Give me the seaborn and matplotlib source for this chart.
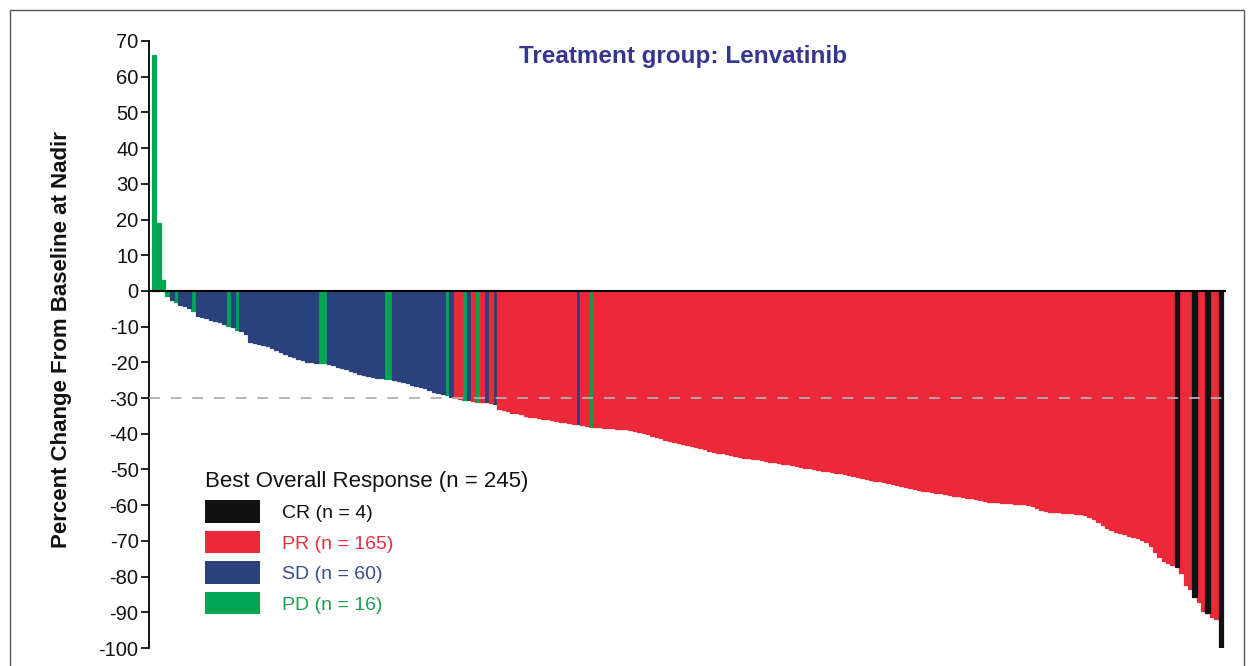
import matplotlib
matplotlib.use("Agg")
import matplotlib.pyplot as plt
from matplotlib.patches import Patch, Rectangle
import pandas as pd
import seaborn as sns

# Best percent change in target lesions, one value per patient (sorted waterfall)
change = [
    66, 19, 3, -1.5, -2.5, -3, -3.8, -4.2, -4.8, -5.5,
    -7, -7.3, -7.6, -8, -8.5, -8.8, -9.2, -9.7, -10.2, -10.8,
    -11.3, -12, -14.3, -14.5, -14.8, -15.1, -15.5, -16, -16.5, -17,
    -17.6, -18.1, -18.6, -19, -19.4, -19.8, -20, -20.1, -20.2, -20.3,
    -20.5, -20.8, -21.2, -21.6, -22, -22.4, -22.8, -23.3, -23.6, -23.9,
    -24.1, -24.3, -24.5, -24.6, -24.7, -25, -25.3, -25.6, -25.9, -26.3,
    -26.6, -26.9, -27.3, -27.8, -28.2, -28.5, -28.8, -29.1, -29.8, -30.1,
    -30.3, -30.5, -30.6, -30.8, -31, -31.1, -31.2, -31.4, -31.8, -33,
    -33.3, -33.7, -34.1, -34.3, -34.6, -34.9, -35.2, -35.4, -35.6, -35.8,
    -36, -36.2, -36.4, -36.6, -36.8, -37, -37.2, -37.4, -37.6, -37.8,
    -38, -38.1, -38.2, -38.3, -38.4, -38.5, -38.6, -38.7, -38.8, -38.9,
    -39.1, -39.4, -39.7, -40.1, -40.5, -40.9, -41.3, -41.7, -42.1, -42.4,
    -42.6, -42.8, -43.1, -43.4, -43.7, -44, -44.3, -44.7, -45, -45.3,
    -45.5, -45.8, -46, -46.3, -46.5, -46.7, -46.9, -47.1, -47.2, -47.4,
    -47.6, -47.8, -48, -48.2, -48.4, -48.6, -48.8, -49.1, -49.3, -49.5,
    -49.7, -49.9, -50.1, -50.3, -50.5, -50.7, -50.9, -51, -51.3, -51.6,
    -51.9, -52.1, -52.3, -52.6, -52.9, -53.1, -53.3, -53.5, -53.7, -54,
    -54.3, -54.6, -54.9, -55.2, -55.4, -55.7, -55.9, -56.1, -56.3, -56.5,
    -56.7, -56.9, -57.1, -57.3, -57.5, -57.7, -57.9, -58.1, -58.3, -58.5,
    -58.8, -59, -59.1, -59.2, -59.3, -59.4, -59.5, -59.6, -59.7, -59.8,
    -60, -60.3, -60.8, -61.3, -61.6, -61.8, -61.9, -62, -62.1, -62.2,
    -62.3, -62.4, -62.5, -62.8, -63.2, -63.8, -64.6, -65.5, -66.3, -66.9,
    -67.4, -67.8, -68.2, -68.6, -69, -69.3, -69.7, -70.3, -71.5, -73,
    -74.5, -75.5, -76.2, -76.8, -77.3, -79, -82.3, -83.5, -85.7, -87,
    -89.5, -90.2, -91.3, -92, -100,
]

# Best overall response per patient: C = CR, R = PR, S = SD, P = PD
response_codes = (
    "PPPPSPSSSP" "SSSSSSSPSP" "SSSSSSSSSS" "SSSSSSSSPP" "SSSSSSSSSS"
    "SSSPPSSSSS" "SSSSSSSPSR" "RPSRPRSRSR" "RRRRRRRRRR" "RRRRRRRSRR"
    "PRRRRRRRRR" "RRRRRRRRRR" "RRRRRRRRRR" "RRRRRRRRRR" "RRRRRRRRRR"
    "RRRRRRRRRR" "RRRRRRRRRR" "RRRRRRRRRR" "RRRRRRRRRR" "RRRRRRRRRR"
    "RRRRRRRRRR" "RRRRRRRRRR" "RRRRRRRRRR" "RRRRCRRRCR" "RCRRC"
)
code_names = {"C": "CR", "R": "PR", "S": "SD", "P": "PD"}
legend_order = ["CR", "PR", "SD", "PD"]

bar_colors = {"CR": "#111111", "PR": "#EC2939", "SD": "#2A417C", "PD": "#00A651"}
text_colors = {"CR": "#111111", "PR": "#E8303E", "SD": "#3A4C8A", "PD": "#1F9E55"}

df = pd.DataFrame({
    "patient": range(len(change)),
    "change": change,
    "response": [code_names[c] for c in response_codes],
})
counts = df["response"].value_counts()

sns.set_theme(style="white")
plt.rcParams["font.family"] = ["Liberation Sans", "DejaVu Sans"]
plt.rcParams["axes.unicode_minus"] = False

W, H = 1253, 666
fig = plt.figure(figsize=(W / 100, H / 100), dpi=100)
ax = fig.add_axes([149 / W, 18 / H, (1226 - 149) / W, 607 / H])

sns.barplot(
    data=df, x="patient", y="change", hue="response", palette=bar_colors,
    dodge=False, width=1.0, saturation=1, legend=False, errorbar=None,
    native_scale=True, linewidth=0, ax=ax,
)
# close the hairline seams between neighbouring bars
for p in ax.patches:
    p.set_edgecolor(p.get_facecolor())
    p.set_linewidth(0.9)

ax.set_xlim(-1.19, 245.2)
ax.set_ylim(-100, 70)
ax.set_yticks(range(-100, 71, 10))
ax.set_xticks([])
ax.set_xlabel("")
for side in ("top", "right", "bottom"):
    ax.spines[side].set_visible(False)
ax.spines["left"].set_color("black")
ax.spines["left"].set_linewidth(1.3)
ax.tick_params(axis="y", direction="out", length=6, width=1.2, color="black",
               labelsize=14.5, labelcolor="#111111", pad=1.5, left=True)

ax.axhline(0, color="black", lw=1.5, zorder=4)
ax.axhline(-30, color="#b0b0b0", lw=1.3, ls=(0, (6, 6)), zorder=4)

ax.set_ylabel("Percent Change From Baseline at Nadir", fontsize=16, fontweight="bold",
              color="#111111")
ax.yaxis.set_label_coords((72 - 149) / 1077, (648 - 340) / 607)

fig.text(683 / W, 1 - 56 / H, "Treatment group: Lenvatinib", ha="center", va="center",
         fontsize=17.5, fontweight="bold", color="#35368F")

handles = [Patch(facecolor=bar_colors[k], edgecolor="none") for k in legend_order]
labels = [f"{k} (n = {counts[k]})" for k in legend_order]
leg = ax.legend(
    handles, labels, title=f"Best Overall Response (n = {len(df)})",
    loc="upper left", bbox_to_anchor=(205 / W, 1 - 471 / H), bbox_transform=fig.transFigure,
    frameon=False, fontsize=14, title_fontsize=16, handlelength=2.83, handleheight=1.38,
    handletextpad=1.13, labelspacing=0.43, borderpad=0, borderaxespad=0, alignment="left",
)
leg.get_title().set_color("#111111")
for t, k in zip(leg.get_texts(), legend_order):
    t.set_color(text_colors[k])

fig.add_artist(Rectangle((10 / W, -0.05), (1244 - 10) / W, 1.05 - 10 / H,
                         transform=fig.transFigure, fill=False, edgecolor="#555555", lw=1))

fig.savefig("out.png", dpi=100)
